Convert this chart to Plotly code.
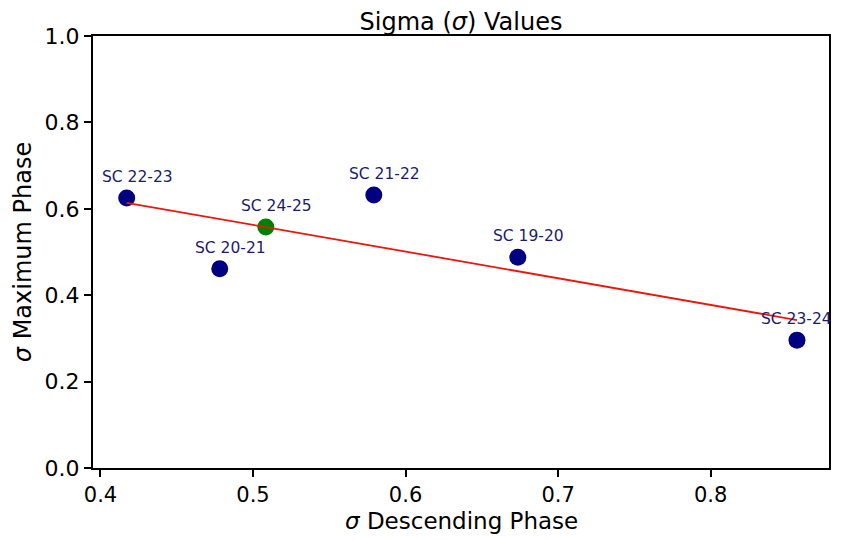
import numpy as np
import plotly.graph_objects as go

# Data
cycles = ["SC 19-20", "SC 20-21", "SC 21-22", "SC 22-23", "SC 23-24"]
sigma_desc = [0.6736, 0.4782, 0.5792, 0.4172, 0.8566]
sigma_max = [0.488, 0.461, 0.632, 0.625, 0.296]

pred_label = ["SC 24-25"]
pred_desc = [0.5084]
pred_max = [0.558]

x_ticks = [0.4, 0.5, 0.6, 0.7, 0.8]
y_ticks = [0.0, 0.2, 0.4, 0.6, 0.8, 1.0]

x_title = "<i>σ</i> Descending Phase"
y_title = "<i>σ</i> Maximum Phase"
chart_title = "Sigma (<i>σ</i>) Values"

# Linear fit on observed cycles
slope, intercept = np.polyfit(sigma_desc, sigma_max, 1)
fit_x = [min(sigma_desc), max(sigma_desc)]
fit_y = [slope * v + intercept for v in fit_x]

FONT = "DejaVu Sans"
fig = go.Figure()

fig.add_trace(go.Scatter(
    x=sigma_desc, y=sigma_max, mode="markers",
    marker=dict(color="#000080", size=17, line=dict(width=0)),
    showlegend=False, hoverinfo="skip"))
fig.add_trace(go.Scatter(
    x=pred_desc, y=pred_max, mode="markers",
    marker=dict(color="#008000", size=17, line=dict(width=0)),
    showlegend=False, hoverinfo="skip"))

x_max = max(sigma_desc + pred_desc)
for lab, xv, yv in zip(cycles + pred_label, sigma_desc + pred_desc, sigma_max + pred_max):
    # the right-most label is nudged inward so it stays on the page
    shift = 0 if xv == x_max else 11
    fig.add_annotation(
        x=xv, y=yv, text=lab, showarrow=False,
        xanchor="center", yanchor="bottom", xshift=shift, yshift=10,
        font=dict(family=FONT, size=15.5, color="#1c1c6b"))

# red fit line drawn above markers and labels, as in the reference
fig.add_shape(type="line", x0=fit_x[0], y0=fit_y[0], x1=fit_x[1], y1=fit_y[1],
              xref="x", yref="y", layer="above",
              line=dict(color="#e8180f", width=1.8))

# x-axis title placed as an annotation for exact vertical placement
fig.add_annotation(
    x=0.5, y=0, xref="paper", yref="paper", text=x_title, showarrow=False,
    xanchor="center", yanchor="middle", yshift=-53,
    font=dict(family=FONT, size=23, color="black"))

# the page body adds an 8px margin; size and margins compensate so the plot lands in place
fig.update_layout(
    width=826, height=532,
    margin=dict(l=85, r=5, t=28, b=72),
    plot_bgcolor="white", paper_bgcolor="white",
    font=dict(family=FONT, color="black"),
    title=dict(text=chart_title, x=0.5, xref="paper",
               xanchor="center", y=1, yref="paper", yanchor="bottom",
               pad=dict(b=6), automargin=False,
               font=dict(family=FONT, size=24, color="black")),
)
fig.update_xaxes(
    range=[0.3951, 0.8776], tickvals=x_ticks, ticktext=[f"{v:.1f}" for v in x_ticks],
    showgrid=False, zeroline=False, showline=True, linecolor="black", linewidth=2,
    mirror=True, ticks="outside", ticklen=7, tickwidth=2, tickcolor="black",
    automargin=False,
    tickfont=dict(family=FONT, size=21, color="black"))
fig.update_yaxes(
    range=[0, 1], tickvals=y_ticks, ticktext=[f"{v:.1f}" for v in y_ticks],
    showgrid=False, zeroline=False, showline=True, linecolor="black", linewidth=2,
    mirror=True, ticks="outside", ticklen=7, tickwidth=2, tickcolor="black",
    automargin=False,
    tickfont=dict(family=FONT, size=22, color="black"),
    title=dict(text=y_title, standoff=6,
               font=dict(family=FONT, size=24, color="black")))

fig.write_html("out.html")
